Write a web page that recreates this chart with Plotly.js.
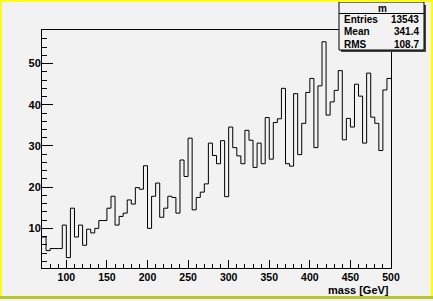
<!DOCTYPE html>
<html>
<head>
<meta charset="utf-8">
<script src="https://cdn.plot.ly/plotly-3.0.1.min.js"></script>
<style>
  html, body { margin: 0; padding: 0; background: #f2f2f2; }
  #wrap { position: relative; width: 433px; height: 301px; overflow: hidden; }
  #chart { position: absolute; left: 0; top: 0; width: 433px; height: 301px; }
  .bd { position: absolute; pointer-events: none; }
</style>
</head>
<body>
<div id="wrap">
  <div id="chart"></div>
  <div class="bd" style="left:0;top:0;width:433px;height:2px;background:#ffff00;"></div>
  <div class="bd" style="left:0;top:0;width:2px;height:297px;background:#ffff00;"></div>
  <div class="bd" style="left:431px;top:0;width:2px;height:297px;background:#ffff00;"></div>
  <div class="bd" style="left:0;top:296px;width:433px;height:3px;background:#b8c62a;"></div>
</div>
<script>
// Histogram "m": bins of 5 GeV from 70 to 500 GeV
const binStart = 70;
const binWidth = 5;
const counts = [
  7.9, 4.6, 5.1, 5.1, 5.1, 10.8, 2.9, 14.9, 7.9, 10.8,
  5.9, 9.8, 8.9, 10.0, 11.9, 11.9, 14.9, 17.8, 10.8, 12.9,
  13.7, 16.9, 15.9, 19.9, 19.5, 25.2, 10.0, 17.8, 21.0, 12.7,
  14.9, 17.8, 17.5, 13.7, 26.6, 22.6, 31.9, 14.5, 17.5, 18.8,
  20.8, 30.7, 27.7, 25.7, 31.3, 17.7, 34.6, 29.6, 27.6, 25.7,
  33.8, 31.4, 24.8, 30.7, 25.7, 36.9, 26.8, 35.7, 36.6, 44.0,
  25.7, 25.1, 42.7, 27.9, 35.5, 43.0, 46.4, 29.6, 44.6, 55.3,
  37.5, 40.7, 43.5, 48.3, 31.5, 36.7, 34.6, 45.0, 42.1, 30.7,
  47.7, 37.0, 35.5, 28.9, 43.6, 46.4
];
const xTickVals = [100, 150, 200, 250, 300, 350, 400, 450, 500];
const yTickVals = [10, 20, 30, 40, 50];
const statsTitle = "m";
const statsLabels = ["Entries", "Mean", "RMS"];
const statsValues = ["13543", "341.4", "108.7"];
const xTitle = "mass [GeV]";

// step outline: bin low edges + final upper edge
const edges = counts.map((_, i) => binStart + i * binWidth);
edges.push(binStart + counts.length * binWidth);
const stepY = counts.concat([counts[counts.length - 1]]);

// pixel -> paper helpers (plot area 42..391 x, 30..268 y)
const L = 42, R = 42, T = 30, B = 33, W = 433, H = 301;
const pw = W - L - R, ph = H - T - B;
const px = x => (x - L) / pw;
const py = y => (H - B - y) / ph;

const font = { family: "Liberation Sans, Arial, sans-serif", color: "#000" };
const bold = s => "<b>" + s + "</b>";

const trace = {
  type: "scatter",
  mode: "lines",
  x: edges,
  y: stepY,
  line: { shape: "hv", color: "#000", width: 1 },
  hoverinfo: "skip"
};

const annotations = [];
annotations.push({
  xref: "paper", yref: "paper", x: px(382), y: py(8),
  text: bold(statsTitle), showarrow: false, xanchor: "center", yanchor: "middle",
  font: Object.assign({ size: 10 }, font)
});
statsLabels.forEach((lab, i) => {
  const yy = py(20 + i * 12);
  annotations.push({
    xref: "paper", yref: "paper", x: px(342), y: yy, text: bold(lab),
    showarrow: false, xanchor: "left", yanchor: "middle",
    font: Object.assign({ size: 10 }, font)
  });
  annotations.push({
    xref: "paper", yref: "paper", x: px(421), y: yy, text: bold(statsValues[i]),
    showarrow: false, xanchor: "right", yanchor: "middle",
    font: Object.assign({ size: 10 }, font)
  });
});
annotations.push({
  xref: "paper", yref: "paper", x: px(391), y: py(289.5), text: bold(xTitle),
  showarrow: false, xanchor: "right", yanchor: "middle",
  font: Object.assign({ size: 11 }, font)
});

const shapes = [
  // stats box shadow
  { type: "rect", xref: "paper", yref: "paper", x0: px(341), x1: px(426), y0: py(52), y1: py(5),
    fillcolor: "#444", line: { width: 0 }, layer: "above" },
  // stats box
  { type: "rect", xref: "paper", yref: "paper", x0: px(339), x1: px(424), y0: py(50), y1: py(2),
    fillcolor: "#f2f2f2", line: { color: "#000", width: 1 }, layer: "above" },
  // header separator
  { type: "line", xref: "paper", yref: "paper", x0: px(339), x1: px(424), y0: py(13.5), y1: py(13.5),
    line: { color: "#000", width: 1 }, layer: "above" }
];

const layout = {
  width: W, height: H,
  margin: { l: L, r: R, t: T, b: B, pad: 0 },
  paper_bgcolor: "#f2f2f2",
  plot_bgcolor: "#f2f2f2",
  showlegend: false,
  font: Object.assign({ size: 10.5 }, font),
  xaxis: {
    range: [70, 500],
    showgrid: false, zeroline: false,
    showline: true, linecolor: "#000", linewidth: 1, mirror: true,
    ticks: "inside", ticklen: 8, tickcolor: "#000", tickwidth: 1,
    tickmode: "array", tickvals: xTickVals, ticktext: xTickVals.map(v => bold(v)),
    minor: { dtick: 10, tick0: 0, ticks: "inside", ticklen: 4, tickcolor: "#000", tickwidth: 1, showgrid: false },
    tickfont: Object.assign({ size: 10.5 }, font),
    ticklabelstandoff: -1
  },
  yaxis: {
    range: [0.38, 58.16],
    showgrid: false, zeroline: false,
    showline: true, linecolor: "#000", linewidth: 1, mirror: true,
    ticks: "inside", ticklen: 11, tickcolor: "#000", tickwidth: 1,
    tickmode: "array", tickvals: yTickVals, ticktext: yTickVals.map(v => bold(v)),
    minor: { dtick: 2, tick0: 0, ticks: "inside", ticklen: 5, tickcolor: "#000", tickwidth: 1, showgrid: false },
    tickfont: Object.assign({ size: 11 }, font),
    ticklabelstandoff: -2
  },
  annotations: annotations,
  shapes: shapes
};

Plotly.newPlot("chart", [trace], layout, { staticPlot: true, displayModeBar: false });
</script>
</body>
</html>
